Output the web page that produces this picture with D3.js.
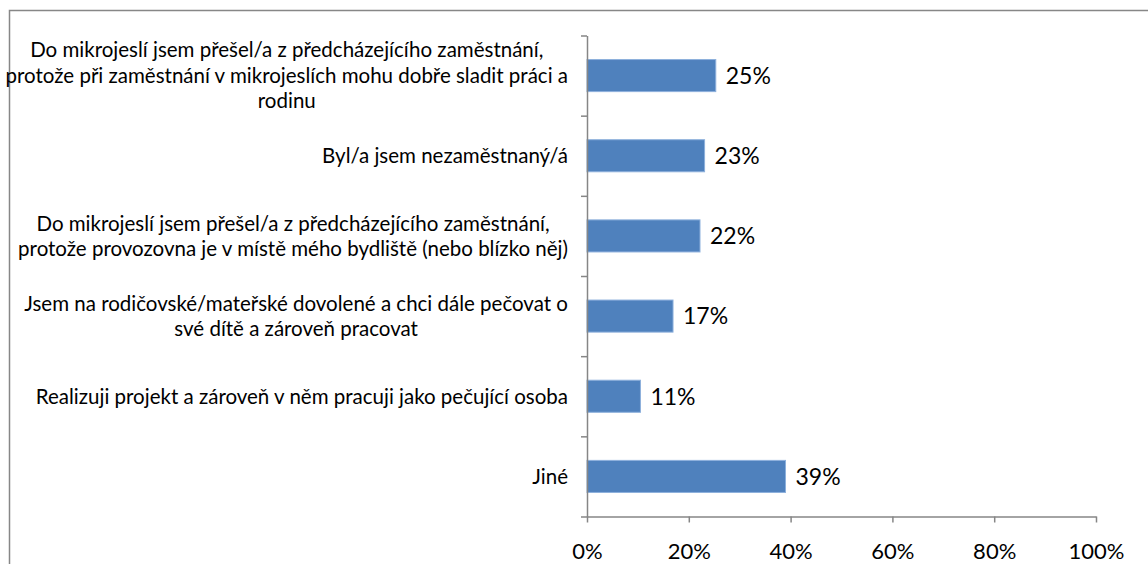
<!DOCTYPE html>
<html>
<head>
<meta charset="utf-8">
<script src="https://cdn.jsdelivr.net/npm/d3@7"></script>
<style>
  body { margin: 0; background: #fff; }
  svg { display: block; }
</style>
</head>
<body>
<div id="chart-area"></div>
<script>
// data
var categories = [
    ["Do mikrojeslí jsem přešel/a z předcházejícího zaměstnání,",
     "protože při zaměstnání v mikrojeslích mohu dobře sladit práci a",
     "rodinu"],
    ["Byl/a jsem nezaměstnaný/á"],
    ["Do mikrojeslí jsem přešel/a z předcházejícího zaměstnání,",
     "protože provozovna je v místě mého bydliště (nebo blízko něj)"],
    ["Jsem na rodičovské/mateřské dovolené a chci dále pečovat o",
     "své dítě a zároveň pracovat"],
    ["Realizuji projekt a zároveň v něm pracuji jako pečující osoba"],
    ["Jiné"]
];
var values = [25.3, 23.1, 22.2, 16.9, 10.5, 39.0];
var valueLabels = ["25%", "23%", "22%", "17%", "11%", "39%"];
var xTicks = [0, 20, 40, 60, 80, 100];

var width = 1148, height = 564;
var plotLeft = 587, plotRight = 1096, plotTop = 35.5, plotBottom = 516.5;
var font = "Lato, 'Open Sans', sans-serif";

var svg = d3.select("#chart-area")
    .append("svg")
    .attr("width", width)
    .attr("height", height);

// chart border (runs off the right and bottom edge)
svg.append("rect")
    .attr("x", 9.5).attr("y", 10.5)
    .attr("width", 1200).attr("height", 600)
    .attr("fill", "none")
    .attr("stroke", "#878787")
    .attr("stroke-width", 1.5);

var keys = d3.range(categories.length);

// Scales
var x = d3.scaleLinear()
    .domain([0, 100])
    .range([plotLeft, plotRight]);
var y = d3.scaleBand()
    .domain(keys)
    .range([plotTop, plotBottom])
    .paddingInner(0.6)
    .paddingOuter(0.3);
var yTicks = d3.scaleLinear()
    .domain([0, categories.length])
    .range([plotTop, plotBottom]);

// Bars
svg.selectAll("rect.bar")
    .data(keys)
    .enter()
    .append("rect")
    .attr("class", "bar")
    .attr("x", x(0))
    .attr("y", function(i) { return y(i); })
    .attr("width", function(i) { return x(values[i]) - x(0); })
    .attr("height", y.bandwidth())
    .attr("fill", "#4f81bd")
    .attr("stroke", "#8db0dc")
    .attr("stroke-width", 1);

// value labels
svg.selectAll("text.value")
    .data(keys)
    .enter()
    .append("text")
    .attr("class", "value")
    .attr("x", function(i) { return x(values[i]) + 10; })
    .attr("y", function(i) { return y(i) + y.bandwidth() / 2; })
    .attr("dy", "0.36em")
    .attr("font-family", font)
    .attr("font-size", "23px")
    .attr("fill", "#000")
    .text(function(i) { return valueLabels[i]; });

// X Axis
var xAxisCall = d3.axisBottom(x)
    .tickValues(xTicks)
    .tickSize(6)
    .tickSizeOuter(0)
    .tickPadding(21)
    .tickFormat(function(d) { return d + "%"; });
var xAxis = svg.append("g")
    .attr("transform", "translate(0," + plotBottom + ")")
    .call(xAxisCall);
xAxis.selectAll("text")
    .attr("font-family", font)
    .attr("font-size", "22px")
    .attr("fill", "#000");

// Y Axis (ticks between categories)
var yAxisCall = d3.axisLeft(yTicks)
    .tickValues(d3.range(categories.length + 1))
    .tickSize(6)
    .tickSizeOuter(0)
    .tickFormat("");
var yAxis = svg.append("g")
    .attr("transform", "translate(" + plotLeft + ",0)")
    .call(yAxisCall);

svg.selectAll(".domain, .tick line")
    .attr("stroke", "#868686")
    .attr("stroke-width", 1.5);

// category labels: wrapped lines centred in a right-aligned block
var labelRight = 568, lineH = 25.5;
keys.forEach(function(i) {
    var lines = categories[i];
    var g = svg.append("g");
    var texts = g.selectAll("text")
        .data(lines)
        .enter()
        .append("text")
        .attr("font-family", font)
        .attr("font-size", "20.5px")
        .attr("fill", "#000")
        .attr("text-anchor", "middle")
        .attr("dy", "0.36em")
        .text(function(d) { return d; });
    var maxW = 0;
    texts.each(function() { maxW = Math.max(maxW, this.getComputedTextLength()); });
    var cy = y(i) + y.bandwidth() / 2;
    texts.attr("x", labelRight - maxW / 2)
        .attr("y", function(d, j) { return cy + (j - (lines.length - 1) / 2) * lineH; });
});
</script>
</body>
</html>
